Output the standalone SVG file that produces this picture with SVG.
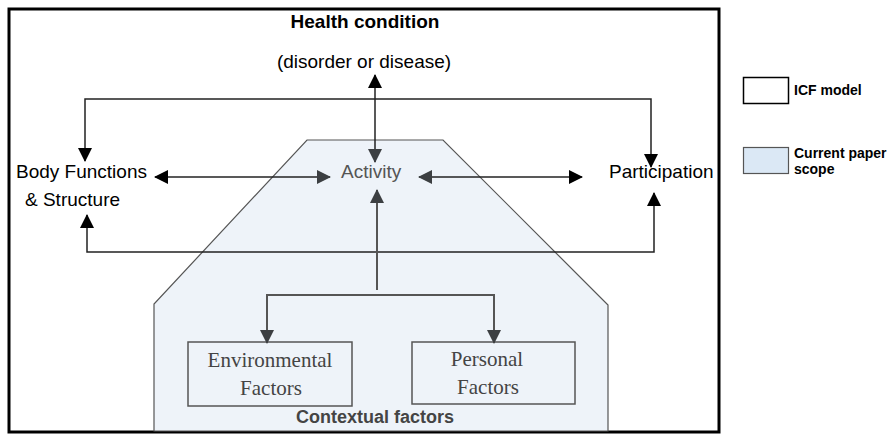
<svg xmlns="http://www.w3.org/2000/svg" width="895" height="435" viewBox="0 0 895 435">
  <defs>
    <style>
      .sans { font-family: "Liberation Sans", Arial, sans-serif; }
      .serif { font-family: "Liberation Serif", "Times New Roman", serif; }
      .lbl { font-size: 19px; fill: #000; }
      .bold { font-weight: bold; }
      .gline { fill: none; stroke: #555; stroke-width: 2; }
      .bline { fill: none; stroke: #222; stroke-width: 1.5; }
      .box { fill: none; stroke: #555; stroke-width: 1.5; }
      .ftxt { font-size: 21px; fill: #444; }
    </style>
    <marker id="ab" viewBox="0 0 14 14" refX="13" refY="7" markerWidth="14" markerHeight="14" markerUnits="userSpaceOnUse" orient="auto-start-reverse">
      <path d="M0,0 L14,7 L0,14 z" fill="#000"/>
    </marker>
    <marker id="ag" viewBox="0 0 14 14" refX="13" refY="7" markerWidth="14" markerHeight="14" markerUnits="userSpaceOnUse" orient="auto-start-reverse">
      <path d="M0,0 L14,7 L0,14 z" fill="#3c3f42"/>
    </marker>
  </defs>

  <rect x="0" y="0" width="895" height="435" fill="#fff"/>

  <!-- Outer ICF frame -->
  <g id="frame">
    <rect x="9" y="9" width="710" height="423" fill="none" stroke="#000" stroke-width="3"/>
  </g>

  <!-- Contextual scope region -->
  <g id="scope">
    <path d="M307,140 L443,140 L608,305 L608,431 L154,431 L154,304 Z" fill="#eef3f9" stroke="#555" stroke-width="1.2"/>
  </g>

  <g id="health">
    <text class="sans lbl bold" x="365" y="28" text-anchor="middle">Health condition</text>
    <text class="sans lbl" x="364" y="68" text-anchor="middle">(disorder or disease)</text>
  </g>

  <g id="body">
    <text class="sans lbl" x="16" y="178">Body Functions</text>
    <text class="sans lbl" x="25" y="206">&amp; Structure</text>
  </g>

  <g id="activity">
    <text class="sans lbl" x="341" y="178" fill="#555" style="fill:#555">Activity</text>
  </g>

  <g id="participation">
    <text class="sans lbl" x="609" y="178">Participation</text>
  </g>

  <g id="environmental">
    <rect class="box" x="188" y="342" width="164" height="64"/>
    <text class="serif ftxt" x="270" y="367" text-anchor="middle">Environmental</text>
    <text class="serif ftxt" x="271" y="395" text-anchor="middle">Factors</text>
  </g>

  <g id="personal">
    <rect class="box" x="412" y="342" width="163" height="62"/>
    <text class="serif ftxt" x="487" y="366" text-anchor="middle">Personal</text>
    <text class="serif ftxt" x="488" y="394" text-anchor="middle">Factors</text>
  </g>

  <g id="contextual">
    <text class="sans bold" x="375" y="423" text-anchor="middle" font-size="18" fill="#444">Contextual factors</text>
  </g>

  <!-- Connectors -->
  <g id="connectors">
    <line class="bline" x1="375" y1="75" x2="375" y2="162" marker-start="url(#ab)" marker-end="url(#ag)"/>
    <path class="bline" d="M85,161 V99 H651 V167" marker-start="url(#ab)" marker-end="url(#ab)"/>
    <path class="bline" d="M87,215 V252 H654 V193" marker-start="url(#ab)" marker-end="url(#ab)"/>
    <line class="bline" x1="155" y1="177" x2="330" y2="177" marker-start="url(#ab)" marker-end="url(#ag)"/>
    <line class="bline" x1="419" y1="177" x2="582" y2="177" marker-start="url(#ag)" marker-end="url(#ab)"/>
    <line class="gline" x1="377" y1="290" x2="377" y2="190" marker-end="url(#ag)"/>
    <path class="gline" d="M267,343 V295 H494 V343" marker-start="url(#ag)" marker-end="url(#ag)"/>
  </g>

  <!-- Legend -->
  <g id="legend-icf">
    <rect x="743.5" y="77.5" width="45" height="26" fill="#fff" stroke="#000" stroke-width="1.5"/>
    <text class="sans bold" x="794" y="95" font-size="14">ICF model</text>
  </g>
  <g id="legend-scope">
    <rect x="743.5" y="147.5" width="45" height="26" fill="#dbe8f5" stroke="#555" stroke-width="1.2"/>
    <text class="sans bold" x="794" y="158" font-size="14">Current paper</text>
    <text class="sans bold" x="794" y="174" font-size="14">scope</text>
  </g>
</svg>
